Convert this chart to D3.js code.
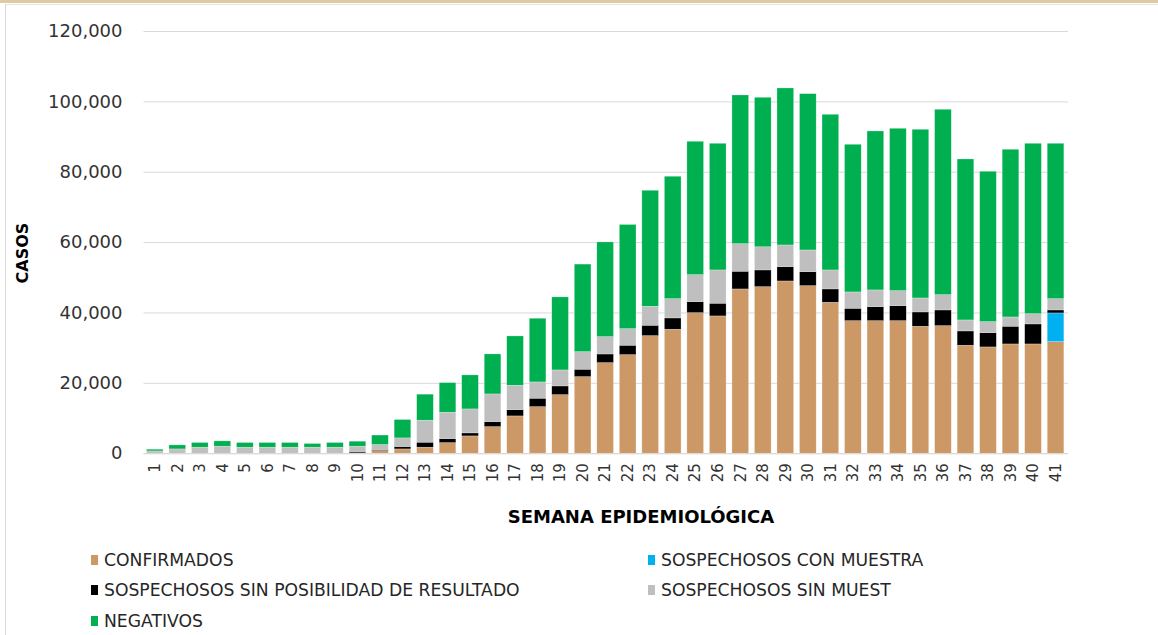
<!DOCTYPE html>
<html>
<head>
<meta charset="utf-8">
<script src="https://cdn.jsdelivr.net/npm/d3@7"></script>
<style>
  html, body { margin: 0; padding: 0; background: #fff; }
  svg { display: block; font-family: "DejaVu Sans", sans-serif; }
</style>
</head>
<body>
<script>
// semanas epidemiológicas
const semanas = d3.range(1, 42).map(String);

// casos por semana
const confirmados = [0, 0, 0, 0, 0, 0, 0, 0, 0, 100, 770, 1220, 1710, 3010, 4920, 7560, 10600, 13240, 16650, 21770,
  25750, 28020, 33420, 35240, 39950, 39020, 46690, 47340, 48960, 47630, 42910, 37680, 37680, 37680, 36090, 36260,
  30690, 30210, 31060, 31060, 31710];
const conMuestra = [0, 0, 0, 0, 0, 0, 0, 0, 0, 0, 0, 0, 0, 0, 0, 0, 0, 0, 0, 0,
  0, 0, 0, 0, 0, 0, 0, 0, 0, 0, 0, 0, 0, 0, 0, 0, 0, 0, 0, 0, 8160];
const sinPosibilidad = [0, 0, 0, 0, 0, 0, 0, 0, 0, 380, 280, 680, 1420, 1140, 850, 1420, 1790, 2390, 2470, 2100,
  2450, 2670, 2950, 3210, 3130, 3610, 5030, 4750, 4070, 3980, 3780, 3520, 3980, 4260, 4060, 4460,
  4060, 4060, 5030, 5680, 850];
const sinMuestra = [650, 1220, 1710, 1990, 1710, 1710, 1710, 1710, 1710, 1510, 1420, 2450, 6250, 7500, 6820, 7870, 6930, 4630, 4550, 5000,
  4940, 4720, 5400, 5480, 7670, 9460, 7840, 6580, 6160, 6160, 5400, 4640, 4750, 4270, 3980, 4350,
  3130, 3130, 2640, 2930, 3210];
const negativos = [490, 1140, 1330, 1510, 1330, 1330, 1330, 1050, 1330, 1420, 2690, 5230, 7400, 8410, 9660, 11370, 14010, 18100, 20750, 24880,
  26910, 29600, 32970, 34790, 37910, 36000, 42260, 42490, 44620, 44420, 44240, 41970, 45180, 46140, 47940, 52680,
  45750, 42740, 47660, 48420, 44160];

const yTicks = [0, 20000, 40000, 60000, 80000, 100000, 120000];

const series = [
  { key: "confirmados", label: "CONFIRMADOS", color: "#cc9966", values: confirmados },
  { key: "conMuestra", label: "SOSPECHOSOS CON MUESTRA", color: "#00b0f0", values: conMuestra },
  { key: "sinPosibilidad", label: "SOSPECHOSOS SIN POSIBILIDAD DE RESULTADO", color: "#000000", values: sinPosibilidad },
  { key: "sinMuestra", label: "SOSPECHOSOS SIN MUEST", color: "#bfbfbf", values: sinMuestra },
  { key: "negativos", label: "NEGATIVOS", color: "#00b050", values: negativos }
];

const width = 1158, height = 635;
const margin = { top: 31, right: 90, bottom: 182, left: 143.5 };

// tabla para d3.stack
const table = semanas.map((s, i) => {
  const row = { semana: s };
  series.forEach(se => row[se.key] = se.values[i]);
  return row;
});

const svg = d3.select("body").append("svg")
  .attr("width", width)
  .attr("height", height);

// marco
svg.append("rect").attr("x", 0).attr("y", 0).attr("width", width).attr("height", 3).attr("fill", "#e0caa2");
svg.append("line").attr("x1", 5).attr("x2", width).attr("y1", 4.5).attr("y2", 4.5).attr("stroke", "#e4e4e4");
svg.append("line").attr("x1", 5.5).attr("x2", 5.5).attr("y1", 4).attr("y2", height).attr("stroke", "#d9d9d9");

const x = d3.scaleBand()
  .domain(semanas)
  .range([margin.left, 1066.8])
  .paddingInner(0.26)
  .paddingOuter(0.13);

const y = d3.scaleLinear()
  .domain([0, 120000])
  .range([453.2, margin.top]);

// grid + eje Y
svg.append("g")
  .attr("transform", `translate(${margin.left},0)`)
  .call(d3.axisLeft(y).tickValues(yTicks).tickFormat(d3.format(",")).tickSize(-(1068 - margin.left)).tickPadding(21))
  .call(g => g.select(".domain").remove())
  .call(g => g.selectAll(".tick line").attr("stroke", "#d9d9d9").attr("stroke-width", 1))
  .call(g => g.selectAll(".tick text")
    .attr("font-family", "DejaVu Sans")
    .attr("font-size", 18)
    .attr("fill", "#333"));

// barras apiladas
const stacked = d3.stack().keys(series.map(s => s.key))(table);

svg.append("g")
  .selectAll("g")
  .data(stacked)
  .join("g")
    .attr("fill", (d, i) => series[i].color)
  .selectAll("rect")
  .data(d => d)
  .join("rect")
    .attr("x", d => x(d.data.semana))
    .attr("y", d => y(d[1]))
    .attr("width", x.bandwidth())
    .attr("height", d => Math.max(0, y(d[0]) - y(d[1])))
    .attr("stroke", "#ffffff")
    .attr("stroke-opacity", 0.5)
    .attr("stroke-width", 0.5);

// eje X
svg.append("g")
  .attr("transform", `translate(0,${y(0)})`)
  .call(d3.axisBottom(x).tickSize(0).tickPadding(0))
  .call(g => g.select(".domain").attr("stroke", "#d9d9d9").attr("d", `M${margin.left},0.5H1068`))
  .call(g => g.selectAll(".tick text")
    .attr("font-family", "DejaVu Sans")
    .attr("font-size", 15)
    .attr("fill", "#333")
    .attr("text-anchor", "end")
    .attr("transform", "rotate(-90)")
    .attr("x", -10)
    .attr("y", 0)
    .attr("dy", "0.35em"));

// títulos de ejes
svg.append("text")
  .attr("transform", `translate(28,253) rotate(-90)`)
  .attr("text-anchor", "middle")
  .attr("font-size", 16)
  .attr("font-weight", "bold")
  .attr("fill", "#000")
  .text("CASOS");

svg.append("text")
  .attr("x", 641)
  .attr("y", 523)
  .attr("text-anchor", "middle")
  .attr("font-size", 18)
  .attr("font-weight", "bold")
  .attr("fill", "#000")
  .text("SEMANA EPIDEMIOLÓGICA");

// leyenda
const legendPos = [
  { x: 91, y: 560 }, { x: 648, y: 560 },
  { x: 91, y: 590 }, { x: 648, y: 590 },
  { x: 91, y: 621 }
];

const legend = svg.append("g")
  .selectAll("g")
  .data(series)
  .join("g")
    .attr("transform", (d, i) => `translate(${legendPos[i].x},${legendPos[i].y})`);

legend.append("rect")
  .attr("x", 0)
  .attr("y", -5)
  .attr("width", 7)
  .attr("height", 10)
  .attr("fill", d => d.color);

legend.append("text")
  .attr("x", 13)
  .attr("y", 0)
  .attr("dy", "0.35em")
  .attr("font-size", 17.2)
  .attr("fill", "#262626")
  .text(d => d.label);
</script>
</body>
</html>
